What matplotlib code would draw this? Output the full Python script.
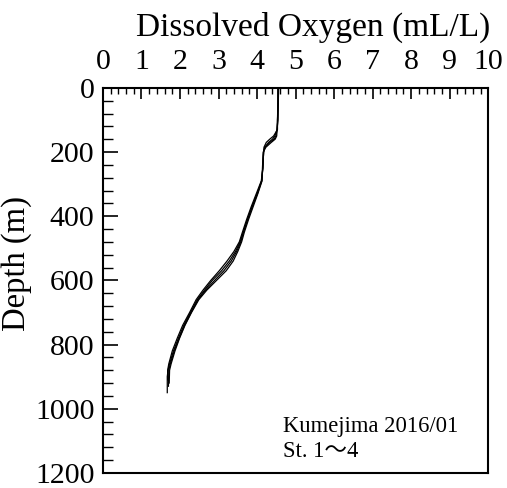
import matplotlib
matplotlib.use("Agg")
import matplotlib.pyplot as plt
from matplotlib.ticker import MultipleLocator

plt.rcParams["font.family"] = ["Liberation Serif", "Noto Sans CJK JP"]

# depth (m) and dissolved oxygen (mL/L) for the four stations
depth_st1 = [0, 50, 100, 130, 150, 160, 170, 185, 200, 250, 290, 330, 370, 410, 450, 480,
             510, 540, 570, 600, 630, 660, 700, 740, 780, 820, 860, 880, 900, 950]
do_st1 = [4.55, 4.55, 4.54, 4.52, 4.46, 4.40, 4.30, 4.20, 4.17, 4.15, 4.12, 4.00, 3.87,
          3.75, 3.64, 3.56, 3.44, 3.28, 3.08, 2.84, 2.64, 2.45, 2.27, 2.10, 1.96, 1.83,
          1.73, 1.69, 1.67, 1.67]

depth_st2 = [0, 50, 100, 130, 150, 160, 170, 185, 200, 250, 290, 330, 370, 410, 450, 480,
             510, 540, 570, 600, 630, 660, 700, 740, 780, 820, 860, 880, 920]
do_st2 = [4.56, 4.55, 4.53, 4.52, 4.51, 4.47, 4.37, 4.23, 4.16, 4.14, 4.13, 4.02, 3.90,
          3.78, 3.67, 3.60, 3.50, 3.38, 3.20, 2.95, 2.70, 2.49, 2.30, 2.13, 1.99, 1.87,
          1.77, 1.73, 1.72]

depth_st3 = [0, 50, 100, 130, 150, 160, 170, 185, 200, 250, 290, 330, 370, 410, 450, 480,
             510, 540, 570, 600, 630, 660, 700, 740, 780, 820, 860, 880, 910]
do_st3 = [4.54, 4.54, 4.53, 4.53, 4.43, 4.33, 4.24, 4.18, 4.17, 4.15, 4.11, 3.98, 3.85,
          3.73, 3.62, 3.54, 3.40, 3.22, 3.02, 2.80, 2.60, 2.42, 2.25, 2.07, 1.93, 1.80,
          1.71, 1.68, 1.68]

depth_st4 = [0, 50, 100, 130, 150, 160, 170, 185, 200, 250, 290, 330, 370, 410, 450, 480,
             510, 540, 570, 600, 630, 660, 700, 740, 780, 820, 860, 880, 930]
do_st4 = [4.55, 4.54, 4.54, 4.52, 4.49, 4.44, 4.33, 4.21, 4.17, 4.15, 4.12, 4.01, 3.88,
          3.76, 3.65, 3.58, 3.47, 3.33, 3.14, 2.90, 2.67, 2.47, 2.29, 2.12, 1.98, 1.85,
          1.75, 1.71, 1.70]

stations = [
    (do_st1, depth_st1),
    (do_st2, depth_st2),
    (do_st3, depth_st3),
    (do_st4, depth_st4),
]

fig = plt.figure(figsize=(5.07, 4.88), dpi=100)
ax = fig.add_axes([0.203, 0.031, 0.760, 0.789])

for do_values, depths in stations:
    ax.plot(do_values, depths, color="black", lw=0.9)

ax.set_xlim(0, 10)
ax.set_ylim(1200, 0)

ax.xaxis.tick_top()
ax.xaxis.set_label_position("top")
ax.xaxis.set_major_locator(MultipleLocator(1))
ax.xaxis.set_minor_locator(MultipleLocator(0.2))
ax.yaxis.set_major_locator(MultipleLocator(200))
ax.yaxis.set_minor_locator(MultipleLocator(40))

ax.tick_params(axis="x", which="both", direction="in", top=True, bottom=False,
               labelsize=21.5, pad=9)
ax.tick_params(axis="x", which="major", length=8, width=1.2)
ax.tick_params(axis="x", which="minor", length=4.5, width=1.0)
ax.tick_params(axis="y", which="both", direction="in", left=True, right=False,
               labelsize=21.5, pad=6)
ax.tick_params(axis="y", which="major", length=11, width=1.2)
ax.tick_params(axis="y", which="minor", length=7, width=1.0)

ax.set_xlabel("Dissolved Oxygen (mL/L)", fontsize=24, labelpad=10)
ax.set_ylabel("Depth (m)", fontsize=23.5, labelpad=2)
ax.xaxis.label.set_x(0.545)
ax.yaxis.label.set_y(0.545)

for spine in ax.spines.values():
    spine.set_linewidth(1.5)

ax.text(4.68, 1072, "Kumejima 2016/01", fontsize=16.3, va="baseline", ha="left")
ax.text(4.68, 1150, "St. 1\u301c4", fontsize=16.3, va="baseline", ha="left")

fig.savefig("out.png", dpi=100)
